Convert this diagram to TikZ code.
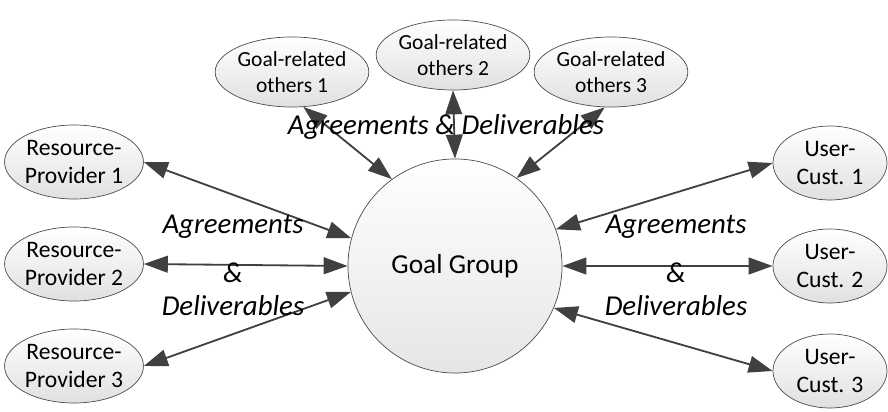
\documentclass[tikz,border=0pt]{standalone}
\usepackage{fontspec}
\setmainfont{Carlito}
\usetikzlibrary{arrows.meta,shapes.geometric}

\begin{document}
\begin{tikzpicture}[x=0.025cm, y=-0.025cm]
			\tikzset{party/.style={draw=black!70, ellipse, line width=0.5pt, inner sep=0pt, minimum width=3.1cm, minimum height=1.85cm, top color=white, bottom color=black!12, align=center, font=\fontsize{16.8}{20}\selectfont},
				other/.style={party, minimum width=3cm, minimum height=1.75cm, font=\fontsize{15.3}{18.5}\selectfont},
				hub/.style={draw=black!70, circle, line width=0.5pt, minimum size=5.35cm, top color=white, bottom color=black!10, font=\fontsize{19.5}{22}\selectfont},
				link/.style={draw=black!75, line width=1.3pt, {Triangle[length=0.6cm, width=0.42cm]}-{Triangle[length=0.6cm, width=0.42cm]}},
				note/.style={font=\fontsize{20.5}{24}\selectfont\itshape}}
			\useasboundingbox (0,0) rectangle (888,412);
			
			\node[hub] (gg) at (455,266) {Goal Group};
			\node[party] (rp_1) at (74,162) {Resource-\\Provider 1};
			\node[party] (rp_2) at (74,264) {Resource-\\Provider 2};
			\node[party] (rp_3) at (74,366) {Resource-\\Provider 3};
			\node[party, minimum width=2.85cm] (uc_1) at (830,163) {User-\\Cust. 1};
			\node[party, minimum width=2.85cm] (uc_2) at (830,266) {User-\\Cust. 2};
			\node[party, minimum width=2.85cm] (uc_3) at (830,371) {User-\\Cust. 3};
			\node[other] (gro_1) at (292,72) {Goal-related\\others 1};
			\node[other] (gro_2) at (453,55) {Goal-related\\others 2};
			\node[other] (gro_3) at (611,72) {Goal-related\\others 3};
			
			\draw[link] (rp_1.east) -- (gg.165);
			\draw[link] (rp_2.east) -- (gg.west);
			\draw[link] (rp_3.east) -- (gg.194);
			\draw[link] (uc_1.west) -- (gg.20);
			\draw[link] (uc_2.west) -- (gg.east);
			\draw[link] (uc_3.west) -- (gg.337);
			\draw[link] (gro_1.-72) -- (gg.126);
			\draw[link] (gro_2.south) -- (gg.north);
			\draw[link] (gro_3.-100) -- (gg.55);
			
			\node[note] (top) at (446,127) {Agreements \& Deliverables};
			\node[note] (l_1) at (233,227) {Agreements};
			\node[note] (l_2) at (233,273) {\&};
			\node[note] (l_3) at (233,306) {Deliverables};
			\node[note] (r_1) at (676,227) {Agreements};
			\node[note] (r_2) at (676,273) {\&};
			\node[note] (r_3) at (676,306) {Deliverables};
			
		\end{tikzpicture}
\end{document}
